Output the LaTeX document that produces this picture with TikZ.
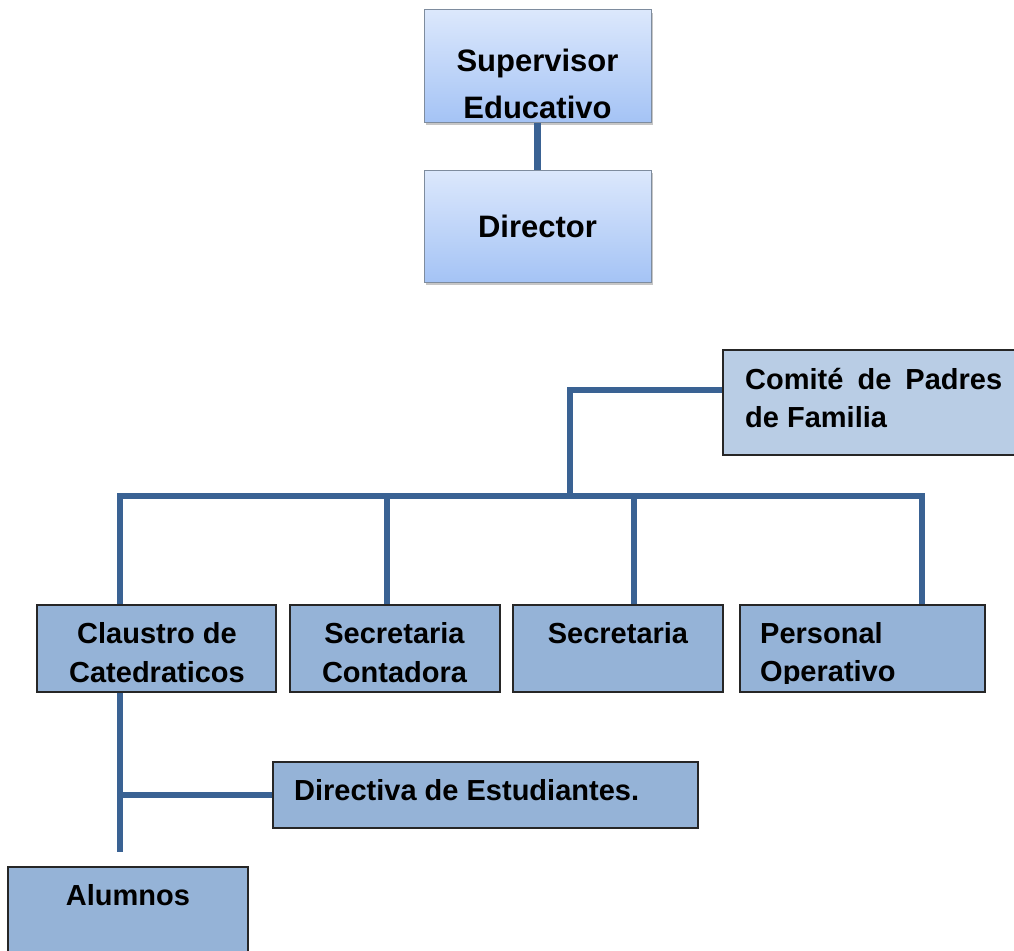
\documentclass[tikz,border=0pt]{standalone}
\usepackage{fontspec}
\setmainfont{Liberation Sans}
\usetikzlibrary{shadows}
\definecolor{linec}{HTML}{3A6293}
\definecolor{boxfill}{HTML}{95B3D7}
\definecolor{comfill}{HTML}{B9CDE5}
\definecolor{gtop}{HTML}{DCE8FC}
\definecolor{gbot}{HTML}{A4C3F5}
\definecolor{gborder}{HTML}{7E8C9E}
\begin{document}
\begin{tikzpicture}[x=1pt,y=-1pt,
  conn/.style={draw=linec, line width=6.5pt, line join=miter},
  topbox/.style={rectangle, draw=gborder, line width=1pt, top color=gtop, bottom color=gbot,
     minimum width=227pt, minimum height=112pt, inner sep=0pt,
     drop shadow={shadow xshift=2pt, shadow yshift=-3pt, fill=black!50, opacity=.45}},
  lowbox/.style={rectangle, draw=black!85, line width=1.5pt, fill=boxfill, inner sep=0pt},
  combox/.style={rectangle, draw=black!85, line width=1.5pt, fill=comfill, inner sep=0pt},
  bigtxt/.style={inner sep=0pt, anchor=base, font=\fontsize{31}{37}\selectfont\bfseries},
  smltxt/.style={inner sep=0pt, anchor=base, font=\fontsize{29}{35}\selectfont\bfseries},
]
\useasboundingbox (0,0) rectangle (1014,950);
\clip (0,0) rectangle (1014,950);

% top boxes
\node[topbox] (sup) at (537.5,66) {};
\node[topbox] (dir) at (537.5,226) {};
\node[bigtxt] (tsup1) at (537.5,71) {Supervisor};
\node[bigtxt] (tsup2) at (537.5,118) {Educativo};
\node[bigtxt] (tdir) at (537.5,237) {Director};
\draw[conn] (sup.south) -- (dir.north);

% comite
\node[combox, minimum width=300pt, minimum height=105pt] (comite) at (873,402.5) {};
\node[smltxt, anchor=base west] (tcom1) at (745,389) {\hbox to 257pt{Comité\hfil de\hfil Padres}};
\node[smltxt, anchor=base west] (tcom2) at (745,427) {de Familia};

% lower row boxes
\node[lowbox, minimum width=239pt, minimum height=87pt] (claustro) at (156.5,648.5) {};
\node[lowbox, minimum width=210pt, minimum height=87pt] (contadora) at (395,648.5) {};
\node[lowbox, minimum width=210pt, minimum height=87pt] (secre) at (618,648.5) {};
\node[lowbox, minimum width=245pt, minimum height=87pt] (personal) at (862.5,648.5) {};

\node[smltxt] (tcl1) at (157,643) {Claustro de};
\node[smltxt] (tcl2) at (157,682) {Catedraticos};
\node[smltxt] (tco1) at (394.5,643) {Secretaria};
\node[smltxt] (tco2) at (394.5,682) {Contadora};
\node[smltxt] (tse) at (618,643) {Secretaria};
\node[smltxt, anchor=base west] (tpe1) at (760,643) {Personal};
\begin{scope}
  \clip (740,605) rectangle (985,683);
  \node[smltxt, anchor=base west] (tpe2) at (760,681) {Operativo};
\end{scope}

% directiva and alumnos
\node[lowbox, minimum width=425pt, minimum height=66pt] (directiva) at (485.5,795) {};
\node[smltxt, anchor=base west] (tdi) at (294,800) {Directiva de Estudiantes.};
\node[lowbox, minimum width=240pt, minimum height=100pt] (alumnos) at (128,917) {};
\node[smltxt] (tal) at (128,905) {Alumnos};

% connectors
\coordinate (c1) at (570,390);
\coordinate (busL) at (120,496);
\coordinate (busR) at (922,496);
\coordinate (v2) at (387,496);
\coordinate (v3) at (634,496);
\coordinate (bL) at (120,795);
\coordinate (aEnd) at (120,852);

\draw[conn] (comite.west |- c1) -- (c1) -- (c1 |- busL);
\draw[conn] (claustro.north -| busL) -- (busL) -- (busR) -- (personal.north -| busR);
\draw[conn] (v2) -- (contadora.north -| v2);
\draw[conn] (v3) -- (secre.north -| v3);
\draw[conn] (claustro.south -| busL) -- (aEnd);
\draw[conn] (bL) -- (directiva.west);
\end{tikzpicture}
\end{document}
